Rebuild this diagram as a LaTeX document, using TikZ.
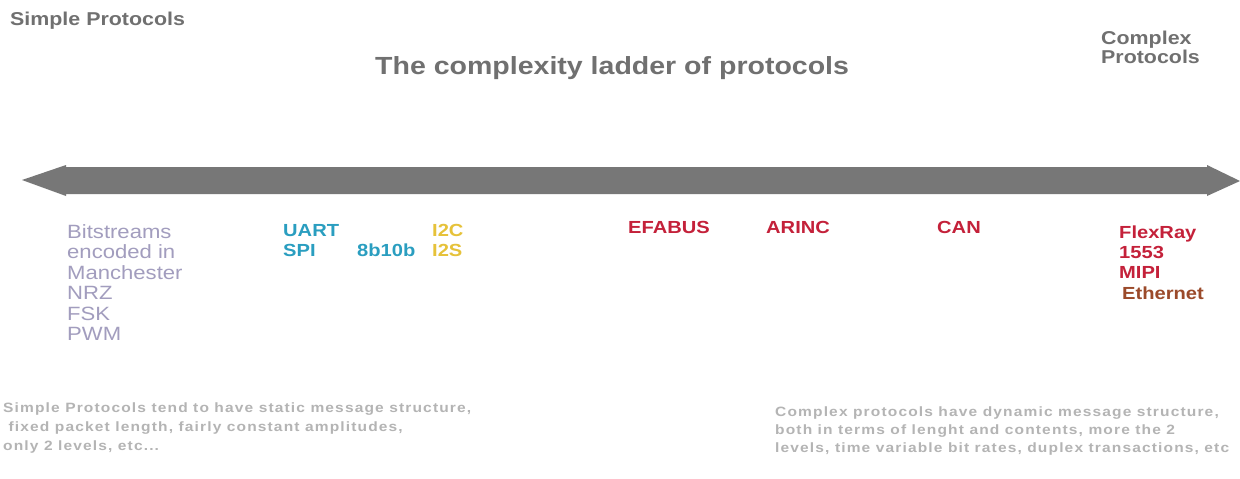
\documentclass[tikz,border=0pt]{standalone}
\usepackage{fontspec}
\newfontfamily\wf[FakeStretch=1.15]{Liberation Sans}
\newfontfamily\nf[FakeStretch=1.15,LetterSpace=8.5]{Liberation Sans}
\definecolor{hdgray}{HTML}{707070}
\definecolor{bargray}{HTML}{777777}
\definecolor{lav}{HTML}{A29DBE}
\definecolor{teal}{HTML}{2A9EC0}
\definecolor{gold}{HTML}{E6C23A}
\definecolor{pred}{HTML}{C4213A}
\definecolor{brown}{HTML}{9B4A2A}
\definecolor{lgray}{HTML}{B4B4B4}
\begin{document}
\begin{tikzpicture}[x=1pt,y=-1pt,
  txt/.style={anchor=base west,inner sep=0pt},
  head/.style={txt,color=hdgray,font=\wf\bfseries\fontsize{18.6}{22}\selectfont},
  ttl/.style={txt,color=hdgray,font=\wf\bfseries\fontsize{24.8}{28}\selectfont},
  lbl/.style={txt,font=\wf\bfseries\fontsize{17.5}{20}\selectfont},
  lst/.style={txt,color=lav,font=\wf\fontsize{19.2}{20}\selectfont},
  note/.style={txt,color=lgray,font=\nf\bfseries\fontsize{13.5}{16}\selectfont}]
\useasboundingbox (0,0) rectangle (1240,479);
\fill[white] (0,0) rectangle (1240,479);
% ladder arrow
\fill[bargray] (22,180) -- (66,165) -- (66,167) -- (1207,167) -- (1207,165)
  -- (1240,181) -- (1207,196) -- (1207,194) -- (66,194) -- (66,196) -- cycle;
% headings
\node[head] (simple) at (10,25) {Simple Protocols};
\node[ttl] (title) at (375,74) {The complexity ladder of protocols};
\node[head] (complex1) at (1101,44) {Complex};
\node[head] (complex2) at (1101,63) {Protocols};
% simple list
\node[lst] (s1) at (67,238.5) {Bitstreams};
\node[lst] (s2) at (67,258.9) {encoded in};
\node[lst] (s3) at (67,279.3) {Manchester};
\node[lst] (s4) at (67,299.7) {NRZ};
\node[lst] (s5) at (67,320.1) {FSK};
\node[lst] (s6) at (67,340.5) {PWM};
% middle protocols
\node[lbl,color=teal] (uart) at (283,236) {UART};
\node[lbl,color=teal] (spi) at (283,256) {SPI};
\node[lbl,color=teal] (eb) at (357,256) {8b10b};
\node[lbl,color=gold] (i2c) at (432,236) {I2C};
\node[lbl,color=gold] (i2s) at (432,256) {I2S};
\node[lbl,color=pred] (efabus) at (628,233) {EFABUS};
\node[lbl,color=pred] (arinc) at (766,233) {ARINC};
\node[lbl,color=pred] (can) at (937,233) {CAN};
% complex list
\node[lbl,color=pred] (c1) at (1119,238) {FlexRay};
\node[lbl,color=pred] (c2) at (1119,258) {1553};
\node[lbl,color=pred] (c3) at (1119,278) {MIPI};
\node[lbl,color=brown] (c4) at (1122,299) {Ethernet};
% notes
\node[note] (n1) at (3,412) {Simple Protocols tend to have static message structure,};
\node[note] (n2) at (3,431) {\ fixed packet length, fairly constant amplitudes,};
\node[note] (n3) at (3,450) {only 2 levels, etc...};
\node[note] (m1) at (775,416) {Complex protocols have dynamic message structure,};
\node[note] (m2) at (775,434) {both in terms of lenght and contents, more the 2};
\node[note] (m3) at (775,452) {levels, time variable bit rates, duplex transactions, etc};
\end{tikzpicture}
\end{document}
